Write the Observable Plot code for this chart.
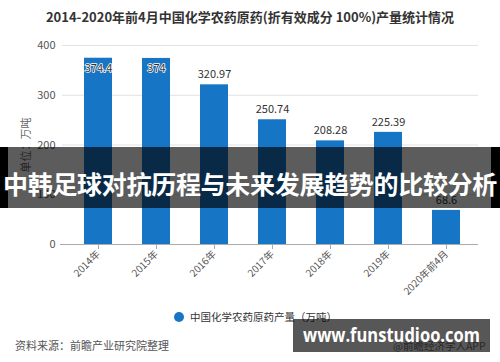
<!DOCTYPE html>
<html><head><meta charset="utf-8">
<script src="https://cdn.jsdelivr.net/npm/d3@7"></script>
<script src="https://cdn.jsdelivr.net/npm/@observablehq/plot@0.6"></script>
<style>
body{margin:0;background:#fff;font-family:"Noto Sans CJK SC","Noto Sans",sans-serif;}
#wrap{position:relative;width:500px;height:362px;overflow:hidden;background:#fff;}
#chart{position:absolute;left:0;top:0;}
.abs{position:absolute;white-space:nowrap;}
</style></head>
<body>
<div id="wrap">
<div id="chart"></div>
<div class="abs" id="title" style="left:0;width:500px;top:7px;text-align:center;font-size:13px;font-weight:bold;color:#333;"></div>
<div class="abs" id="ylab" style="left:25px;top:145px;font-size:11px;color:#666;transform:translate(-50%,-50%) rotate(-90deg);transform-origin:center;"></div>
<div class="abs" style="left:0;top:147px;width:500px;height:61px;background:rgba(0,0,0,0.64);"></div>
<div class="abs" style="left:0;top:147px;width:8px;height:61px;background:#000;"></div>
<div class="abs" style="left:491px;top:147px;width:9px;height:61px;background:#000;"></div>
<div class="abs" id="banner" style="left:0;width:500px;top:168px;text-align:center;font-size:25px;line-height:30px;font-weight:bold;color:#fff;letter-spacing:-0.3px;"></div>
<div class="abs" id="legend" style="left:174px;top:310px;font-size:10.5px;color:#333;line-height:14px;"></div>
<div class="abs" id="source" style="left:15px;top:337px;font-size:11px;color:#555;"></div>
<div class="abs" id="app" style="left:393px;top:338px;font-size:10.5px;color:#777;"></div>
<div class="abs" style="left:293px;top:319px;width:197px;height:33px;background:rgba(0,0,0,0.66);"></div>
<div class="abs" id="site" style="left:303px;top:322px;font-size:20px;line-height:26px;font-weight:bold;color:#fff;font-family:'Open Sans','DejaVu Sans',sans-serif;transform-origin:left center;"></div>
</div>
<script>
const titleText = "2014-2020年前4月中国化学农药原药(折有效成分 100%)产量统计情况";
const yAxisLabel = "单位：万吨";
const years = ["2014年","2015年","2016年","2017年","2018年","2019年","2020年前4月"];
const output = [374.4, 374, 320.97, 250.74, 208.28, 225.39, 68.6];
const valueLabels = ["374.4","374","320.97","250.74","208.28","225.39","68.6"];
const yTicks = [0, 100, 200, 300, 400];
const gridValues = [100, 200, 300, 400];
const seriesName = "中国化学农药原药产量（万吨）";
const sourceText = "资料来源：前瞻产业研究院整理";
const bannerText = "中韩足球对抗历程与未来发展趋势的比较分析";
const siteText = "www.funstudioo.com";
const appText = "@前瞻经济学人APP";

const data = years.map((y, i) => ({year: y, value: output[i], label: valueLabels[i], inside: i < 2}));
const blue = "#1775c5";

const chart = Plot.plot({
  width: 500, height: 362,
  marginTop: 45, marginBottom: 118, marginLeft: 66, marginRight: 22,
  x: {domain: years, paddingInner: 0.524, paddingOuter: 0.265, label: null},
  y: {domain: [0, 400], label: null},
  style: {fontFamily: "'Noto Sans CJK SC','Noto Sans',sans-serif", fontSize: "11px", color: "#555", background: "transparent"},
  marks: [
    Plot.ruleY(gridValues, {stroke: "#e2e2e2", insetLeft: -4}),
    Plot.barY(data, {x: "year", y: "value", fill: blue}),
    Plot.ruleY([0], {stroke: "#aaa", insetLeft: -6}),
    Plot.axisY({ticks: yTicks, tickSize: 0, tickPadding: 11, fontSize: 11, fill: "#555", label: null}),
    Plot.axisX({tickSize: 5, tickRotate: -45, fontSize: 10, stroke: "#aaa", fill: "#555", tickPadding: 3, label: null}),
    Plot.text(data.filter(d => !d.inside), {x: "year", y: "value", text: "label", dy: -10, fill: "#333", fontSize: 11}),
    Plot.text(data.filter(d => d.inside), {x: "year", y: "value", text: "label", dy: 10, fill: "#333", stroke: "white", strokeWidth: 1.5, fontSize: 11})
  ]
});
document.getElementById("chart").appendChild(chart);
document.getElementById("title").textContent = titleText;
document.getElementById("ylab").textContent = yAxisLabel;
document.getElementById("banner").textContent = bannerText;
document.getElementById("legend").innerHTML = `<span style="display:inline-block;width:10px;height:10px;border-radius:50%;background:${blue};vertical-align:-1px;margin-right:6px;"></span>`;
document.getElementById("legend").appendChild(document.createTextNode(seriesName));
document.getElementById("source").textContent = sourceText;
document.getElementById("app").textContent = appText;
const site = document.getElementById("site");
site.textContent = siteText;
const w = site.getBoundingClientRect().width;
if (w > 0) site.style.transform = `scaleX(${177 / w})`;
</script>
</body></html>
